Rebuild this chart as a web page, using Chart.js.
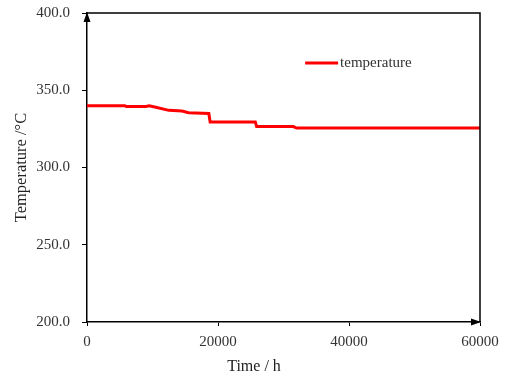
<!DOCTYPE html>
<html>
<head>
<meta charset="utf-8">
<script src="https://cdn.jsdelivr.net/npm/chart.js@4.4.0/dist/chart.umd.min.js"></script>
<style>
  html, body { margin: 0; padding: 0; background: #fff; }
  #wrap { width: 505px; height: 378px; }
</style>
</head>
<body>
<div id="wrap"><canvas id="tempChart" width="505" height="378"></canvas></div>
<script>
// time (h) and temperature (°C)
const timeH = [0, 5800, 6000, 9000, 9500, 10500, 12500, 14500, 15500, 18600, 18800, 25700, 25900, 31500, 32000, 60000];
const tempC = [340, 340, 339.5, 339.5, 340, 339, 337, 336.5, 335.5, 335, 329.5, 329.5, 326.5, 326.5, 325.5, 325.5];
const xTicks = [0, 20000, 40000, 60000];
const yTicks = [200, 250, 300, 350, 400];
const xTitle = "Time / h";

const points = timeH.map((t, i) => ({ x: t, y: tempC[i] }));

// box + arrows + legend inside plot + x title (sits left of centre in the original)
const framePlugin = {
    id: "frame",
    afterDraw(chart) {
        const ctx = chart.ctx;
        const a = chart.chartArea;
        ctx.save();
        ctx.strokeStyle = "#000";
        ctx.lineWidth = 1.5;
        ctx.beginPath();
        ctx.moveTo(a.left, a.top);
        ctx.lineTo(a.right, a.top);
        ctx.lineTo(a.right, a.bottom);
        ctx.stroke();

        // arrow heads
        ctx.fillStyle = "#000";
        ctx.beginPath();
        ctx.moveTo(a.left, a.top - 1);
        ctx.lineTo(a.left - 3.5, a.top + 9);
        ctx.lineTo(a.left + 3.5, a.top + 9);
        ctx.closePath();
        ctx.fill();
        ctx.beginPath();
        ctx.moveTo(a.right + 1, a.bottom);
        ctx.lineTo(a.right - 9, a.bottom - 3.5);
        ctx.lineTo(a.right - 9, a.bottom + 3.5);
        ctx.closePath();
        ctx.fill();

        // legend
        const ds = chart.data.datasets[0];
        const lx = a.left + (a.right - a.left) * 0.555;
        const ly = a.top + 50;
        ctx.strokeStyle = ds.borderColor;
        ctx.lineWidth = 3;
        ctx.beginPath();
        ctx.moveTo(lx, ly);
        ctx.lineTo(lx + 33, ly);
        ctx.stroke();
        ctx.fillStyle = "#333";
        ctx.font = "15px 'Liberation Serif'";
        ctx.textBaseline = "middle";
        ctx.fillText(ds.label, lx + 35, ly);

        // x axis title
        ctx.fillStyle = "#222";
        ctx.font = "16px 'Liberation Serif'";
        ctx.textAlign = "center";
        ctx.fillText(xTitle, a.left + (a.right - a.left) * 0.425, a.bottom + 45);
        ctx.restore();
    }
};

const ctx = document.getElementById("tempChart").getContext("2d");

new Chart(ctx, {
    type: "scatter",
    data: {
        datasets: [{
            label: "temperature",
            data: points,
            showLine: true,
            borderColor: "#ff0000",
            backgroundColor: "#ff0000",
            borderWidth: 3,
            pointRadius: 0,
            tension: 0
        }]
    },
    options: {
        responsive: false,
        animation: false,
        plugins: {
            legend: { display: false },
            tooltip: { enabled: false }
        },
        layout: {
            padding: { left: 12, right: 25, top: 13, bottom: 20 }
        },
        scales: {
            x: {
                type: "linear",
                min: 0,
                max: 60000,
                afterBuildTicks: axis => { axis.ticks = xTicks.map(v => ({ value: v })); },
                afterFit: axis => { axis.paddingLeft = 0; axis.paddingRight = 0; },
                ticks: {
                    color: "#333",
                    font: { family: "Liberation Serif", size: 15 },
                    callback: v => String(v),
                    maxRotation: 0,
                    padding: 7
                },
                grid: { drawOnChartArea: false, drawTicks: true, tickLength: 4, color: "#000" },
                border: { display: true, color: "#000", width: 1.5 }
            },
            y: {
                type: "linear",
                min: 200,
                max: 400,
                afterBuildTicks: axis => { axis.ticks = yTicks.map(v => ({ value: v })); },
                afterFit: axis => { axis.width = 75; axis.paddingTop = 0; axis.paddingBottom = 0; },
                ticks: {
                    color: "#333",
                    font: { family: "Liberation Serif", size: 15 },
                    callback: v => Number(v).toFixed(1),
                    padding: 12
                },
                grid: { drawOnChartArea: false, drawTicks: true, tickLength: 5, color: "#000" },
                border: { display: true, color: "#000", width: 1.5 },
                title: {
                    display: true,
                    text: "Temperature /°C",
                    color: "#222",
                    font: { family: "Liberation Serif", size: 16.5 },
                    padding: { top: 0, bottom: 4 }
                }
            }
        }
    },
    plugins: [framePlugin]
});
</script>
</body>
</html>
